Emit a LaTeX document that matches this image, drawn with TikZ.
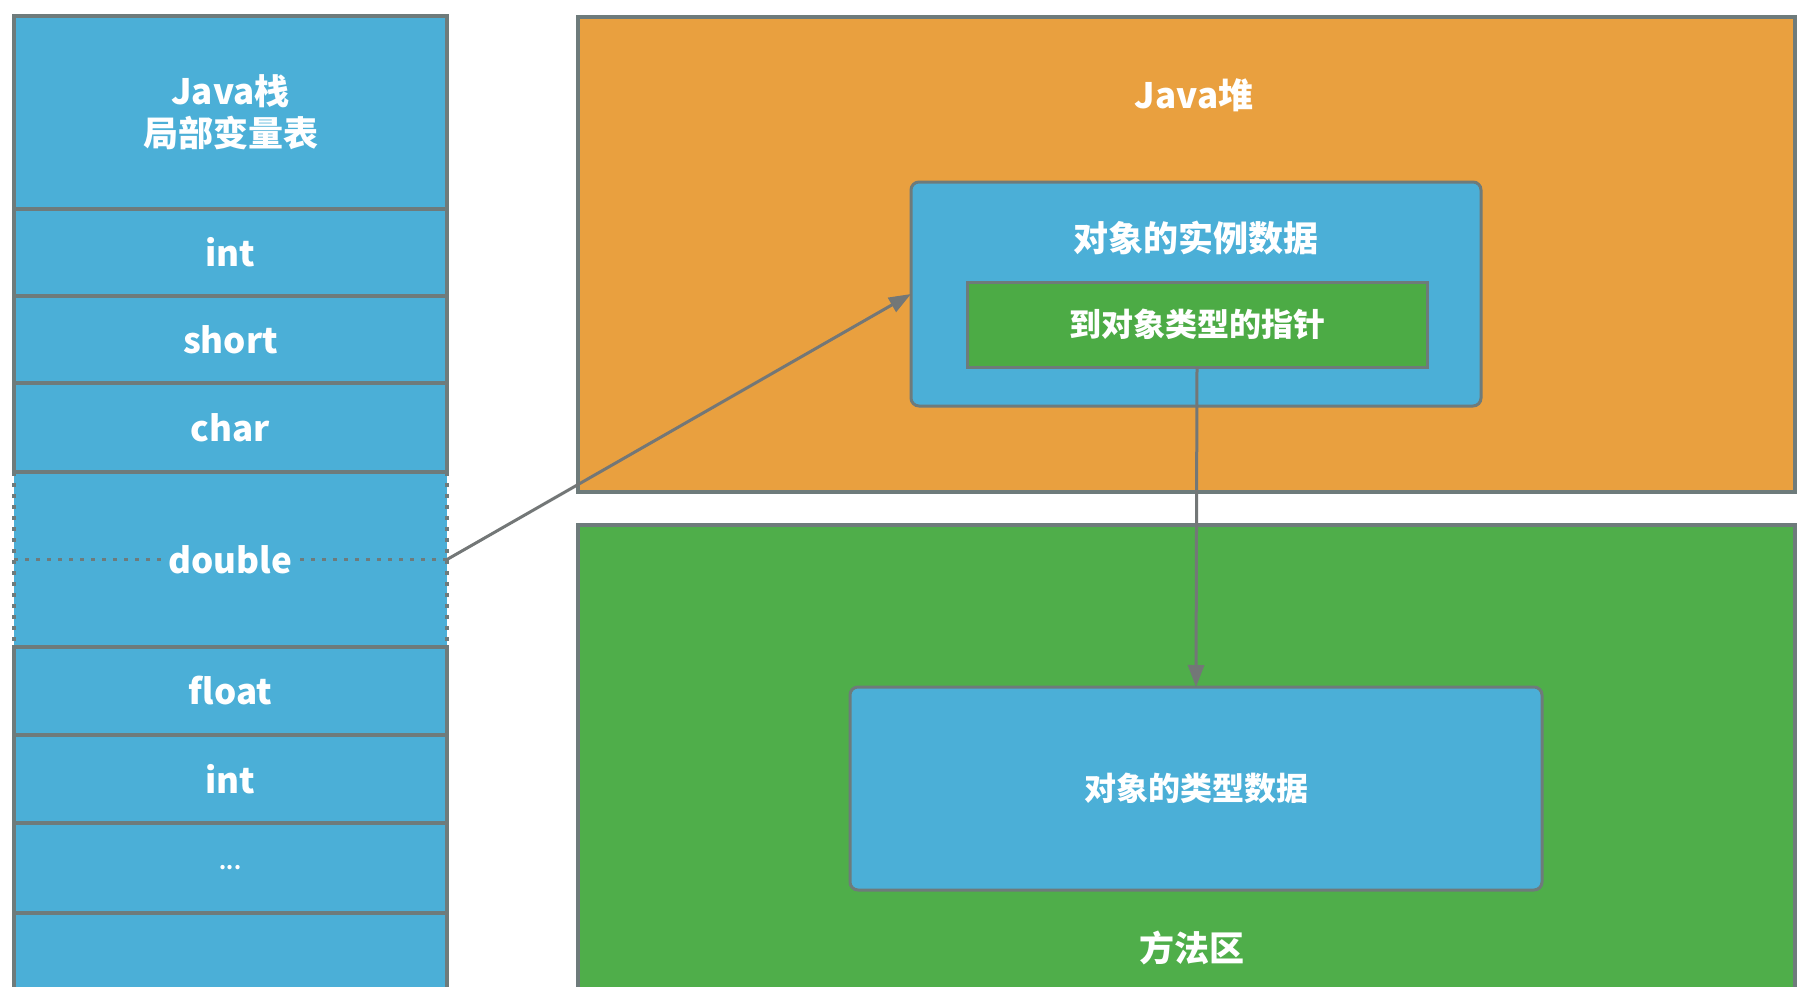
\documentclass[tikz,border=0pt]{standalone}
\usepackage{fontspec}
\setmainfont{Noto Sans CJK SC}
\usetikzlibrary{positioning,arrows.meta}
\definecolor{bleupile}{HTML}{4BAFD7}
\definecolor{orangetas}{HTML}{E9A03F}
\definecolor{vertzone}{HTML}{4FAE4A}
\definecolor{vertptr}{HTML}{4CAB45}
\definecolor{grisbord}{HTML}{6E7B7B}
\definecolor{gristrait}{HTML}{737777}

\begin{document}
\begin{tikzpicture}[x=1pt,y=-1pt]
	\tikzstyle{case}=[draw=grisbord, fill=bleupile, line width=3.5pt, minimum width=433pt, inner sep=0pt, outer sep=0pt, text=white, font=\fontsize{35}{42}\selectfont\bfseries, align=center]
	\tikzstyle{zone}=[draw=grisbord, line width=3.5pt, inner sep=0pt, outer sep=0pt]
	\tikzstyle{boite}=[draw=grisbord, fill=bleupile, line width=3pt, rounded corners=8pt, inner sep=0pt, outer sep=0pt]
	\tikzstyle{texte}=[text=white, font=\fontsize{35}{42}\selectfont\bfseries]
	\tikzstyle{petit}=[text=white, font=\fontsize{32}{38}\selectfont\bfseries]
	\tikzstyle{pointille}=[draw=grisbord, line width=3.5pt, dash pattern=on 3.5pt off 7.5pt]
	\tikzstyle{lien}=[draw=gristrait, line width=3pt, -{Triangle[length=22pt,width=16pt]}]
	\useasboundingbox (0,0) rectangle (1812,986);
	\fill[white] (0,0) rectangle (1812,986);

	% pile
	\node[case, minimum height=193pt, anchor=north] (tete) at (230.5,16) {Java栈\\局部变量表};
	\node[case, minimum height=87pt, below=0pt of tete] (c1) {int};
	\node[case, minimum height=87pt, below=0pt of c1] (c2) {short};
	\node[case, minimum height=89pt, below=0pt of c2] (c3) {char};
	\node[case, draw=none, minimum height=175pt, below=0pt of c3] (c4) {};
	\node[case, minimum height=88pt, below=0pt of c4] (c5) {float};
	\node[case, minimum height=88pt, below=0pt of c5] (c6) {int};
	\node[case, minimum height=90pt, below=0pt of c6] (c7) {\fontsize{20}{24}\selectfont ...};
	\node[case, minimum height=100pt, below=0pt of c7] (c8) {};
	\draw[grisbord, line width=3.5pt] (c4.north west) -- (c4.north east);
	\draw[pointille] (c4.north west) -- (c4.south west);
	\draw[pointille] (c4.north east) -- (c4.south east);
	\draw[pointille] (c4.west) -- (c4.east);
	\node[texte, fill=bleupile, inner sep=2pt] (dbl) at (c4) {double};

	% tas et zone des methodes
	\node[zone, fill=orangetas, minimum width=1217pt, minimum height=475pt, anchor=north west] (tas) at (578,17) {};
	\node[zone, fill=vertzone, minimum width=1217pt, minimum height=500pt, anchor=north west] (meth) at (578,525) {};
	\node[texte] (titretas) at (1194,95) {Java堆};
	\node[texte] (titremeth) at (1192,948) {方法区};

	\node[boite, minimum width=570pt, minimum height=224pt] (inst) at (1196,294) {};
	\node[texte] (titreinst) at (1196,238) {对象的实例数据};
	\node[petit, draw=grisbord, fill=vertptr, line width=3pt, minimum width=460pt, minimum height=85pt, inner sep=0pt, outer sep=0pt] (ptr) at (1197,324.5) {到对象类型的指针};
	\node[boite, petit, minimum width=692pt, minimum height=203pt] (type) at (1196,788.5) {对象的类型数据};

	\draw[lien] (c4.east) -- (inst.west);
	\draw[lien] (ptr.south) -- (type.north);
\end{tikzpicture}
\end{document}
